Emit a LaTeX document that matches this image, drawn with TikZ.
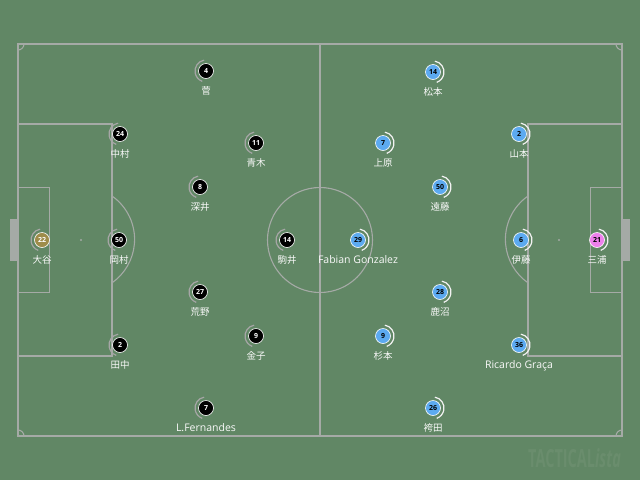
\documentclass[tikz,border=0pt]{standalone}
\usepackage{fontspec}
\setmainfont{Open Sans}
\newfontfamily\jp{Noto Sans CJK JP}
\usetikzlibrary{calc}
\definecolor{pitch}{RGB}{97,135,101}
\definecolor{pline}{RGB}{165,170,166}
\definecolor{tblue}{RGB}{92,170,240}
\definecolor{tpink}{RGB}{238,128,236}
\definecolor{tgold}{RGB}{158,140,74}
\definecolor{wmark}{RGB}{106,141,109}
\newcommand{\lat}{\fontsize{10.5}{11}\selectfont}
\tikzset{
  fieldline/.style={draw=pline, line width=1.1pt},
  pl/.style={circle, minimum size=15pt, inner sep=0pt, draw=white, line width=0.6pt, font=\bfseries\fontsize{7}{7}\selectfont},
  blk/.style={pl, fill=black, text=white},
  blu/.style={pl, fill=tblue, text=black},
  gk/.style={pl, fill=tgold, text=white},
  pk/.style={pl, fill=tpink, text=black},
  nm/.style={text=white!95!gray, font=\fontsize{9.5}{10}\selectfont, inner sep=0pt},
  arcL/.style={draw=gray!70, line width=1.2pt},
  arcR/.style={draw=white!90!gray, line width=1.2pt},
}
\begin{document}
\begin{tikzpicture}[x=1pt,y=-1pt]
\fill[pitch] (0,0) rectangle (640,480);
\useasboundingbox (0,0) rectangle (640,480);
% pitch
\draw[fieldline] (18,44) rectangle (622,436);
\draw[fieldline] (320,44) -- (320,436);
\draw[fieldline] (320,240) circle[radius=52.5pt];
\draw[fieldline] (18,124) rectangle (112,356);
\draw[fieldline] (528,124) rectangle (622,356);
\draw[fieldline] (18,187.5) rectangle (49.5,292.5);
\draw[fieldline] (590.5,187.5) rectangle (622,292.5);
\fill[pline] (10,219) rectangle (17,261);
\fill[pline] (623,219) rectangle (630,261);
\draw[fieldline] (112,196) arc[start angle=55,end angle=-55,radius=53pt];
\draw[fieldline] (528,196) arc[start angle=125,end angle=235,radius=53pt];
\fill[pline] (320,240) circle[radius=1.1pt];
\fill[pline] (81,240) circle[radius=1.1pt];
\fill[pline] (559,240) circle[radius=1.1pt];
\draw[fieldline] (24,44) arc[start angle=0,end angle=-90,radius=6pt];
\draw[fieldline] (616,44) arc[start angle=180,end angle=270,radius=6pt];
\draw[fieldline] (18,430) arc[start angle=90,end angle=0,radius=6pt];
\draw[fieldline] (622,430) arc[start angle=90,end angle=180,radius=6pt];
% watermark
\node[text=wmark, font=\bfseries\fontsize{25}{25}\selectfont, xscale=0.58, anchor=base east, inner sep=0pt] (wm) at (621,467) {TACTICAL\textit{ista}};
% black team
\foreach \id/\n/\x/\y/\lab/\st in {
  a4/4/206/71/{\jp 菅}/blk,
  a24/24/120/134/{\jp 中村}/blk,
  a11/11/256/143/{\jp 青木}/blk,
  a8/8/200/187/{\jp 深井}/blk,
  a22/22/42/240/{\jp 大谷}/gk,
  a50/50/119/240/{\jp 岡村}/blk,
  a14/14/287/240/{\jp 駒井}/blk,
  a27/27/200/292/{\jp 荒野}/blk,
  a9/9/256/336/{\jp 金子}/blk,
  a2/2/120/345/{\jp 田中}/blk,
  a7/7/206/408/{\lat L.Fernandes}/blk}{
  \node[\st] (\id) at (\x,\y) {\n};
  \draw[arcL] ([shift={(100:11pt)}]\id.center) arc[start angle=100,end angle=250,radius=11pt];
  \node[nm, anchor=base] (\id n) at ([yshift=-23.5pt]\id.center) {\lab};
}
% blue team
\foreach \id/\n/\x/\y/\lab/\st in {
  b14/14/433/72/{\jp 松本}/blu,
  b7/7/383/143/{\jp 上原}/blu,
  b2/2/519/134/{\jp 山本}/blu,
  b50/50/440/187/{\jp 遠藤}/blu,
  b29/29/358/240/{\lat Fabian Gonzalez}/blu,
  b6/6/521/240/{\jp 伊藤}/blu,
  b21/21/597/240/{\jp 三浦}/pk,
  b28/28/440/292/{\jp 鹿沼}/blu,
  b9/9/383/336/{\jp 杉本}/blu,
  b36/36/519/345/{\lat Ricardo Graça}/blu,
  b26/26/433/408/{\jp 袴田}/blu}{
  \node[\st] (\id) at (\x,\y) {\n};
  \draw[arcR] ([shift={(80:11pt)}]\id.center) arc[start angle=80,end angle=-70,radius=11pt];
  \node[nm, anchor=base] (\id n) at ([yshift=-23.5pt]\id.center) {\lab};
}
\end{tikzpicture}
\end{document}
